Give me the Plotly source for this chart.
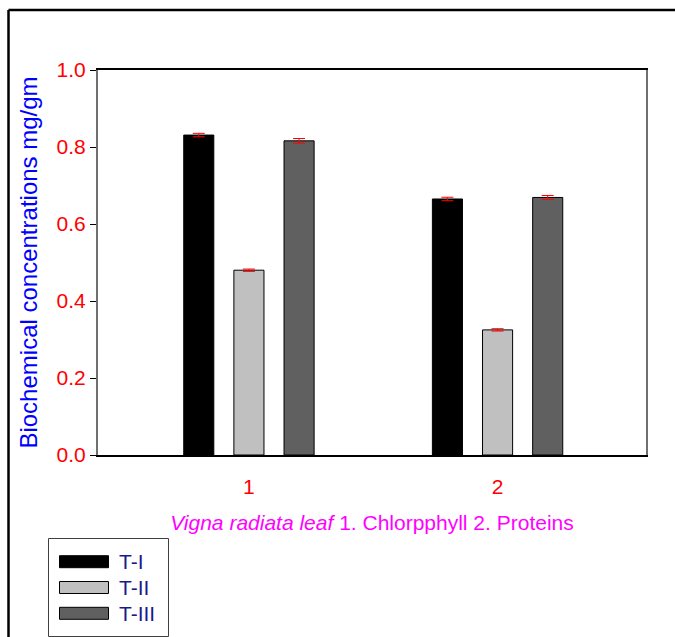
import plotly.graph_objects as go

categories = [1, 2]
tick_labels = ["1", "2"]
series_names = ["T-I", "T-II", "T-III"]
t1_values = [0.831, 0.665]
t2_values = [0.480, 0.325]
t3_values = [0.816, 0.669]
t1_err = [0.0045, 0.0045]
t2_err = [0.003, 0.003]
t3_err = [0.006, 0.005]
y_ticks = [0.0, 0.2, 0.4, 0.6, 0.8, 1.0]

values = [t1_values, t2_values, t3_values]
errors = [t1_err, t2_err, t3_err]
fills = ["#000000", "#c0c0c0", "#606060"]

FONT = "Arial, Liberation Sans, sans-serif"
W, H = 675, 637
L, R, T, B = 98, 29, 70, 182
pw, ph = W - L - R, H - T - B

def px(x):
    return (x - L) / pw

def py(y):
    return (H - B - y) / ph

fig = go.Figure()
for name, vals, errs, col in zip(series_names, values, errors, fills):
    fig.add_trace(go.Bar(
        x=categories, y=vals, name=name,
        marker=dict(color=col, line=dict(color="#000000", width=1)),
        error_y=dict(type="data", array=errs, visible=True, color="#ff0000",
                     thickness=1, width=6),
        showlegend=False,
    ))

shapes = []
annotations = []
# outer frame (left and top edges visible)
shapes.append(dict(type="line", xref="paper", yref="paper",
                   x0=px(8.5), x1=px(700), y0=py(10), y1=py(10),
                   line=dict(color="#000000", width=2.5)))
shapes.append(dict(type="line", xref="paper", yref="paper",
                   x0=px(8.5), x1=px(8.5), y0=py(10), y1=py(700),
                   line=dict(color="#000000", width=2.5)))
# manual legend
shapes.append(dict(type="rect", xref="paper", yref="paper",
                   x0=px(48.5), x1=px(168.5), y0=py(538.5), y1=py(636.5),
                   line=dict(color="#404040", width=1), fillcolor="rgba(0,0,0,0)"))
legend_rows = [561.7, 587.5, 613.3]
for name, col, yc in zip(series_names, fills, legend_rows):
    shapes.append(dict(type="rect", xref="paper", yref="paper",
                       x0=px(59.5), x1=px(108.5), y0=py(yc - 6), y1=py(yc + 6),
                       line=dict(color="#000000", width=1), fillcolor=col))
    annotations.append(dict(xref="paper", yref="paper", x=px(117), y=py(yc),
                            text=name, showarrow=False, xanchor="left", yanchor="middle",
                            font=dict(family=FONT, size=21, color="#1a1a8c")))

fig.update_layout(
    width=W, height=H,
    margin=dict(l=L, r=R, t=T, b=B, pad=0),
    paper_bgcolor="white", plot_bgcolor="white",
    barmode="group", bargap=0.395, bargroupgap=0.4,
    font=dict(family=FONT, size=21),
    shapes=shapes, annotations=annotations,
    showlegend=False,
)
fig.update_xaxes(
    range=[0.393, 2.597], tickvals=categories, ticktext=tick_labels,
    showgrid=False, zeroline=False,
    showline=True, mirror=True, linecolor="#000000", linewidth=1.5,
    ticks="", ticklabelstandoff=12,
    tickfont=dict(family=FONT, size=21, color="#ff0000"),
    title=dict(text="<i>Vigna radiata leaf</i> 1. Chlorpphyll 2. Proteins",
               font=dict(family=FONT, size=21, color="#ff00ff"), standoff=18),
)
fig.update_yaxes(
    range=[0, 1.0], tickvals=y_ticks, ticktext=[f"{v:.1f}" for v in y_ticks],
    showgrid=False, zeroline=False,
    showline=True, mirror=True, linecolor="#707070", linewidth=2,
    ticks="outside", ticklen=6, tickcolor="#000000", tickwidth=1,
    tickfont=dict(family=FONT, size=21, color="#ff0000"),
    title=dict(text="Biochemical concentrations mg/gm",
               font=dict(family=FONT, size=24, color="#0000ff"), standoff=12),
)

fig.write_html("out.html")
